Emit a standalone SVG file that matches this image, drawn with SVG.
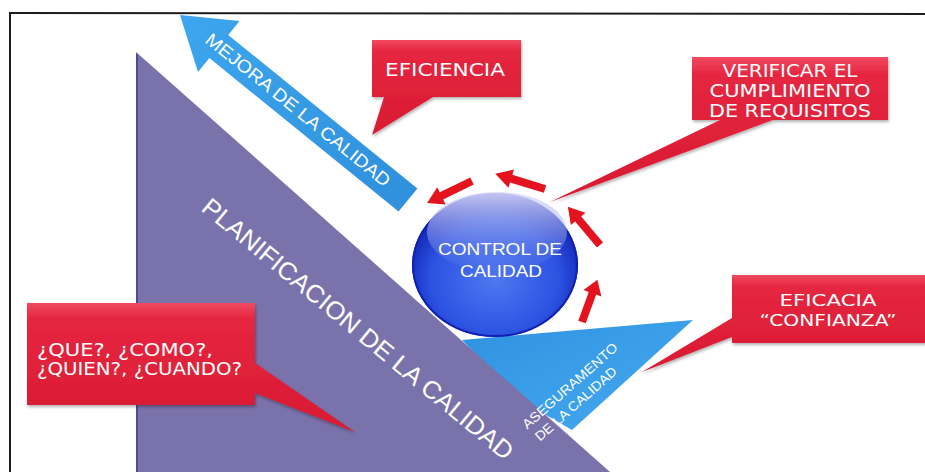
<svg xmlns="http://www.w3.org/2000/svg" width="925" height="472" viewBox="0 0 925 472">
  <defs>
    <linearGradient id="redFill" x1="0" y1="0" x2="0" y2="1">
      <stop offset="0" stop-color="#f04a62"/>
      <stop offset="0.12" stop-color="#e62640"/>
      <stop offset="1" stop-color="#d81a32"/>
    </linearGradient>
    <linearGradient id="arrowBlue" x1="0" y1="0" x2="1" y2="1">
      <stop offset="0" stop-color="#3da6ee"/>
      <stop offset="1" stop-color="#2f8fdc"/>
    </linearGradient>
    <linearGradient id="triBlue" x1="0" y1="0" x2="1" y2="1">
      <stop offset="0" stop-color="#2f92e0"/>
      <stop offset="1" stop-color="#45aaf0"/>
    </linearGradient>
    <radialGradient id="sphere" cx="0.5" cy="0.6" r="0.55">
      <stop offset="0" stop-color="#4f78f0"/>
      <stop offset="0.7" stop-color="#2c52e2"/>
      <stop offset="1" stop-color="#1428b8"/>
    </radialGradient>
    <linearGradient id="gloss" x1="0" y1="0" x2="0" y2="1">
      <stop offset="0" stop-color="#dcdcf8" stop-opacity="0.9"/>
      <stop offset="0.55" stop-color="#a8b4f4" stop-opacity="0.45"/>
      <stop offset="1" stop-color="#8aa0f4" stop-opacity="0"/>
    </linearGradient>
    <filter id="shadow" x="-10%" y="-10%" width="120%" height="130%">
      <feDropShadow dx="1" dy="2" stdDeviation="1.5" flood-color="#000" flood-opacity="0.3"/>
    </filter>
    <!-- small red arrow, tail at origin, tip at (50,0) -->
    <path id="cycleArrow" d="M0,-4 H34 V-9.5 L50,0 L34,9.5 V4 H0 Z"/>
  </defs>
  <style>
    .frame { stroke: #1c1c1c; stroke-width: 2; fill: none; }
    .callout { fill: url(#redFill); filter: url(#shadow); }
    .calloutText { font-family: "DejaVu Sans", "Liberation Sans", sans-serif; fill: #ffffff; }
    .label { font-family: "Liberation Sans", Arial, sans-serif; fill: #ffffff; }
    .cycle { fill: #e3141e; }
  </style>

  <rect width="925" height="472" fill="#ffffff"/>

  <!-- outer frame -->
  <g id="frame">
    <line class="frame" x1="10" y1="13" x2="925" y2="14"/>
    <line class="frame" x1="10" y1="12" x2="10" y2="472"/>
  </g>

  <!-- quality assurance wedge -->
  <g id="aseguramiento">
    <polygon points="462,340 693,320 572,430 520,400" fill="url(#triBlue)"/>
  </g>

  <!-- planning triangle -->
  <g id="planificacion">
    <polygon points="136,52 610,472 136,472" fill="#7a72aa"/>
    <line x1="137" y1="54" x2="137" y2="472" stroke="#4a4a9a" stroke-width="2"/>
    <text class="label" transform="translate(200,210) rotate(39.5)" font-size="25" textLength="395" lengthAdjust="spacingAndGlyphs">PLANIFICACION DE LA CALIDAD</text>
  </g>

  <!-- labels on the assurance wedge (drawn over the planning triangle) -->
  <g id="aseguramiento-label">
    <text class="label" transform="translate(570,386) rotate(-41.5)" font-size="13.5" text-anchor="middle" dominant-baseline="central" textLength="122" lengthAdjust="spacingAndGlyphs">ASEGURAMENTO</text>
    <text class="label" transform="translate(576,404) rotate(-41.5)" font-size="13.5" text-anchor="middle" dominant-baseline="central" textLength="104" lengthAdjust="spacingAndGlyphs">DE LA CALIDAD</text>
  </g>

  <!-- improvement arrow -->
  <g id="mejora">
    <polygon points="180,15 239.6,20.9 228.2,34.9 417.4,188.4 398.6,211.6 209.4,58.1 198,72.1" fill="url(#arrowBlue)"/>
    <text class="label" transform="translate(298,110) rotate(39)" font-size="18" text-anchor="middle" dominant-baseline="central" textLength="232" lengthAdjust="spacingAndGlyphs">MEJORA DE LA CALIDAD</text>
  </g>

  <!-- quality control sphere -->
  <g id="control">
    <ellipse cx="495" cy="265" rx="83" ry="72" fill="url(#sphere)"/>
    <ellipse cx="495" cy="265" rx="82" ry="71" fill="none" stroke="#1020b0" stroke-width="2"/>
    <ellipse cx="497" cy="232" rx="70" ry="40" fill="url(#gloss)"/>
    <text class="label" x="500" y="255" font-size="17" text-anchor="middle" textLength="124" lengthAdjust="spacingAndGlyphs">CONTROL DE</text>
    <text class="label" x="501" y="277" font-size="17" text-anchor="middle" textLength="82" lengthAdjust="spacingAndGlyphs">CALIDAD</text>
  </g>

  <!-- control cycle arrows -->
  <g id="connectors">
    <use href="#cycleArrow" class="cycle" transform="translate(472,181) rotate(154)"/>
    <use href="#cycleArrow" class="cycle" transform="translate(545,189) rotate(197) scale(1.04,1)"/>
    <use href="#cycleArrow" class="cycle" transform="translate(600,245) rotate(-130)"/>
    <use href="#cycleArrow" class="cycle" transform="translate(582,322) rotate(-70) scale(0.9,1)"/>
  </g>

  <!-- callouts -->
  <g id="eficiencia">
    <path class="callout" d="M372,40 H521 V97 H433 L372,135 L384,97 H372 Z"/>
    <text class="calloutText" x="445" y="76" font-size="17" text-anchor="middle" textLength="120" lengthAdjust="spacingAndGlyphs">EFICIENCIA</text>
  </g>

  <g id="verificar">
    <path class="callout" d="M692,57 H888 V120 H773 L550,202 L720,120 H692 Z"/>
    <text class="calloutText" x="790" y="77" font-size="17" text-anchor="middle" textLength="135" lengthAdjust="spacingAndGlyphs">VERIFICAR EL</text>
    <text class="calloutText" x="790" y="97" font-size="17" text-anchor="middle" textLength="161" lengthAdjust="spacingAndGlyphs">CUMPLIMIENTO</text>
    <text class="calloutText" x="790" y="117" font-size="17" text-anchor="middle" textLength="162" lengthAdjust="spacingAndGlyphs">DE REQUISITOS</text>
  </g>

  <g id="eficacia">
    <path class="callout" d="M732,275 H932 V343 H732 V337 L642,372 L732,318 Z"/>
    <text class="calloutText" x="828" y="306" font-size="16" text-anchor="middle" textLength="97" lengthAdjust="spacingAndGlyphs">EFICACIA</text>
    <text class="calloutText" x="828" y="326" font-size="16" text-anchor="middle" textLength="137" lengthAdjust="spacingAndGlyphs">“CONFIANZA”</text>
  </g>

  <g id="preguntas">
    <path class="callout" d="M27,303 H255 V363 L355,432 L255,393 V405 H27 Z"/>
    <text class="calloutText" x="37" y="356" font-size="17" textLength="176" lengthAdjust="spacingAndGlyphs">¿QUE?, ¿COMO?,</text>
    <text class="calloutText" x="37" y="375" font-size="17" textLength="205" lengthAdjust="spacingAndGlyphs">¿QUIEN?, ¿CUANDO?</text>
  </g>
</svg>
